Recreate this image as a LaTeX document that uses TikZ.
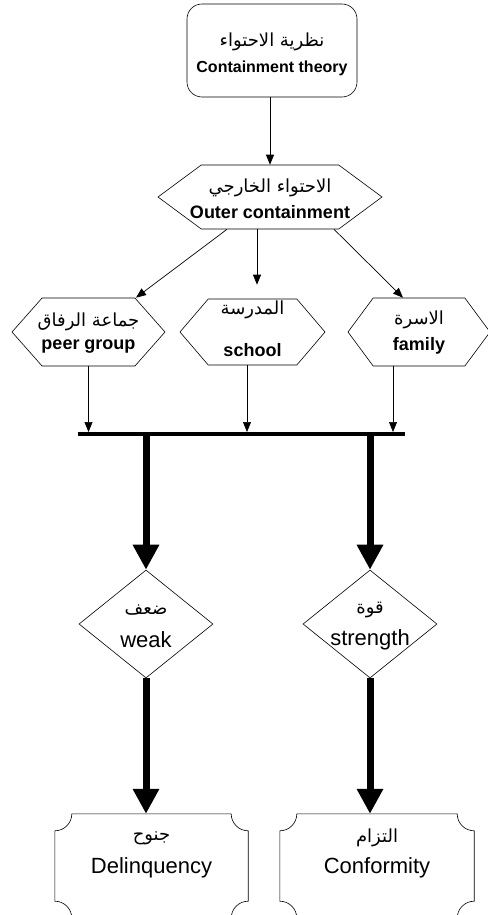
\documentclass[tikz,border=0pt]{standalone}
\usepackage{fontspec}
\setmainfont{Liberation Sans}
\newfontfamily\arabicfont[Script=Arabic]{DejaVu Sans}
\TeXXeTstate=1
\usetikzlibrary{shapes.geometric,shapes.symbols,arrows.meta,calc}

\newcommand\artxt[1]{{\arabicfont\fontsize{18}{20}\selectfont\beginR #1\endR}}
% box with hollowed corners, drawn round a named node
\newcommand\cardoutline[1]{%
  \draw[line width=0.6pt]
    ($(#1.north west)+(17,0)$) -- ($(#1.north east)+(-17,0)$)
    .. controls +(0,9.4) and +(-9.4,0) .. ($(#1.north east)+(0,17)$)
    -- ($(#1.south east)+(0,-17)$)
    .. controls +(-9.4,0) and +(0,-9.4) .. ($(#1.south east)+(-17,0)$)
    -- ($(#1.south west)+(17,0)$)
    .. controls +(0,-9.4) and +(9.4,0) .. ($(#1.south west)+(0,-17)$)
    -- ($(#1.north west)+(0,17)$)
    .. controls +(9.4,0) and +(0,9.4) .. ($(#1.north west)+(17,0)$)
    -- cycle;}

\begin{document}
\begin{tikzpicture}[x=1pt,y=1pt,yscale=-1,
  hexa/.style={signal, signal to=west and east, draw, line width=0.6pt, inner sep=0pt},
  dia/.style={diamond, draw, line width=0.6pt, inner sep=0pt, minimum width=134pt, minimum height=108pt},
  card/.style={rectangle, inner sep=0pt, minimum width=193pt, minimum height=104pt},
  thinarr/.style={line width=0.7pt, -{Triangle[width=8pt,length=10pt]}},
  fatarr/.style={line width=7pt, -{Triangle[width=25pt,length=25pt]}},
  entxt/.style={font=\fontsize{18}{20}\selectfont\bfseries},
  plaintxt/.style={font=\fontsize{22}{24}\selectfont}]
\useasboundingbox (0,0) rectangle (487,915);

% shapes
\node[draw, line width=0.6pt, rounded corners=15pt, minimum width=170pt, minimum height=93pt] (theory) at (272,50.5) {};
\node[hexa, minimum width=224pt, minimum height=64pt, signal pointer angle=73] (outer) at (270,197) {};
\node[hexa, minimum width=153pt, minimum height=68pt, signal pointer angle=97] (peer) at (88.5,332) {};
\node[hexa, minimum width=145pt, minimum height=66pt, signal pointer angle=99] (school) at (252.5,332) {};
\node[hexa, minimum width=142pt, minimum height=68pt, signal pointer angle=107] (family) at (419,332) {};
\node[dia] (weak) at (146,624) {};
\node[dia] (strength) at (370,624) {};
\node[card] (delinq) at (151.5,866) {};
\node[card, minimum width=194pt] (conform) at (377,866) {};
\cardoutline{delinq}
\cardoutline{conform}

% collecting bar
\coordinate (barL) at (78,434);
\coordinate (barR) at (405,434);
\draw[line width=4.5pt] (barL) -- (barR);

% connectors
\draw[thinarr] (theory.south -| outer.north) -- (outer.north);
\coordinate (o1) at ($(outer.south)+(-43,0)$);
\coordinate (o2) at ($(outer.south)+(-13,0)$);
\coordinate (o3) at ($(outer.south)+(64,0)$);
\draw[thinarr] (o1) -- ($(peer.north)+(47.5,0)$);
\draw[thinarr, shorten >=14pt] (o2) -- (o2 |- school.north);
\draw[thinarr] (o3) -- ($(family.north)+(-16,0)$);

\coordinate (p1) at ($(school.south)+(-5.5,0)$);
\coordinate (p2) at ($(family.south)+(-26,0)$);
\draw[thinarr, shorten >=2pt] (peer.south) -- (peer.south |- barL);
\draw[thinarr, shorten >=2pt] (p1) -- (p1 |- barL);
\draw[thinarr, shorten >=2pt] (p2) -- (p2 |- barL);

\draw[fatarr] (barL -| weak.north) -- (weak.north);
\draw[fatarr] (barL -| strength.north) -- (strength.north);
\draw[fatarr] (weak.south) -- (weak.south |- delinq.north);
\draw[fatarr] (strength.south) -- (strength.south |- conform.north);

% texts
\node (theoryar) at (272,42) {\artxt{نظرية الاحتواء}};
\node[font=\fontsize{16}{18}\selectfont\bfseries] (theoryen) at (272,68) {Containment theory};
\node (outerar) at (270,188) {\artxt{الاحتواء الخارجي}};
\node[entxt] (outeren) at (270,212) {Outer containment};
\node (peerar) at (88.5,322) {\artxt{جماعة الرفاق}};
\node[entxt] (peeren) at (88.5,347) {peer group};
\node (schoolar) at (252.5,310) {\artxt{المدرسة}};
\node[entxt] (schoolen) at (252.5,350) {school};
\node (familyar) at (419,320) {\artxt{الاسرة}};
\node[entxt] (familyen) at (419,346) {family};
\node (weakar) at (146,610) {\artxt{ضعف}};
\node[plaintxt] (weaken) at (146,640) {weak};
\node (strengthar) at (370,610) {\artxt{قوة}};
\node[plaintxt] (strengthen) at (370,640) {strength};
\node (delinqar) at (151.5,838) {\artxt{جنوح}};
\node[plaintxt] (delinqen) at (151.5,868) {Delinquency};
\node (conformar) at (377,838) {\artxt{التزام}};
\node[plaintxt] (conformen) at (377,868) {Conformity};

\end{tikzpicture}
\end{document}
